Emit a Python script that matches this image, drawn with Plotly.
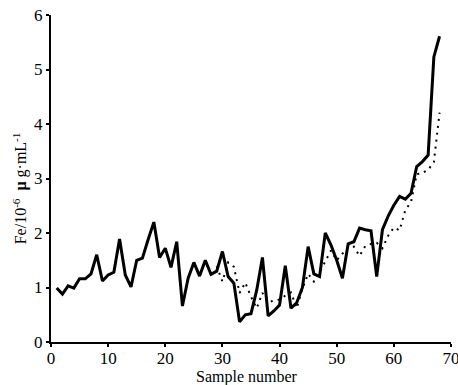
import plotly.graph_objects as go

solid_x = list(range(1, 69))
solid_y = [0.99, 0.88, 1.03, 0.99, 1.16, 1.16, 1.25, 1.60, 1.12, 1.23,
           1.28, 1.89, 1.23, 1.01, 1.50, 1.54, 1.88, 2.20, 1.55, 1.72,
           1.37, 1.84, 0.66, 1.17, 1.46, 1.21, 1.50, 1.24, 1.30, 1.66,
           1.20, 1.08, 0.37, 0.50, 0.52, 0.95, 1.55, 0.48, 0.57, 0.68,
           1.40, 0.62, 0.72, 1.00, 1.75, 1.25, 1.20, 2.00, 1.78, 1.50,
           1.17, 1.80, 1.84, 2.09, 2.06, 2.04, 1.20, 2.06, 2.31, 2.51,
           2.67, 2.62, 2.73, 3.22, 3.31, 3.43, 5.23, 5.61]

dot_x = list(range(29, 69))
dot_y = [1.39, 1.11, 1.46, 1.38, 0.90, 1.09, 0.83, 0.62, 0.90, 0.73,
         0.76, 0.78, 0.85, 0.91, 0.62, 0.98, 1.25, 1.11, 1.28, 1.47,
         1.68, 1.50, 1.62, 1.74, 1.75, 1.58, 1.76, 1.80, 1.82, 1.72,
         1.95, 2.10, 2.05, 2.42, 2.57, 3.08, 3.10, 3.16, 3.30, 4.21]

x_ticks = [0, 10, 20, 30, 40, 50, 60, 70]
y_ticks = [0, 1, 2, 3, 4, 5, 6]

x_title = "Sample number"
y_title = "Fe/10<sup>-6</sup>  <b>μ</b> g·mL<sup>-1</sup>"

font = "Liberation Serif, Times New Roman, serif"

fig = go.Figure()
fig.add_trace(go.Scatter(x=dot_x, y=dot_y, mode="lines",
                         line=dict(color="black", width=2, dash="2px,5px"),
                         showlegend=False))
fig.add_trace(go.Scatter(x=solid_x, y=solid_y, mode="lines",
                         line=dict(color="black", width=3),
                         showlegend=False))

fig.update_layout(
    width=458, height=385,
    margin=dict(l=51, r=7, t=15, b=43, autoexpand=False),
    paper_bgcolor="white", plot_bgcolor="white",
    font=dict(family=font, size=17, color="black"),
    xaxis=dict(range=[0, 70], tickvals=x_ticks, showgrid=False, zeroline=False,
               showline=True, linecolor="black", linewidth=2, automargin=False,
               ticks="outside", ticklen=3, tickwidth=1.5, tickcolor="black",
               ticklabeloverflow="allow", ticklabelstandoff=-3,
               tickfont=dict(family=font, size=17)),
    yaxis=dict(range=[0, 6], tickvals=y_ticks, showgrid=False, zeroline=False,
               showline=True, linecolor="black", linewidth=2, automargin=False,
               ticks="outside", ticklen=3, tickwidth=1.5, tickcolor="black",
               ticklabeloverflow="allow",
               tickfont=dict(family=font, size=17)),
    annotations=[
        dict(text=x_title, xref="paper", yref="paper", x=0.49, y=0,
             yshift=-35, yanchor="middle", xanchor="center", showarrow=False,
             borderpad=0, font=dict(family=font, size=16)),
        dict(text=y_title, xref="paper", yref="paper", x=0, y=0.47,
             xshift=-31, xanchor="center", yanchor="middle", textangle=-90,
             showarrow=False, font=dict(family=font, size=16)),
    ],
)

fig.write_html("out.html", config={"displayModeBar": False},
               post_script="document.body.style.margin='0';")
